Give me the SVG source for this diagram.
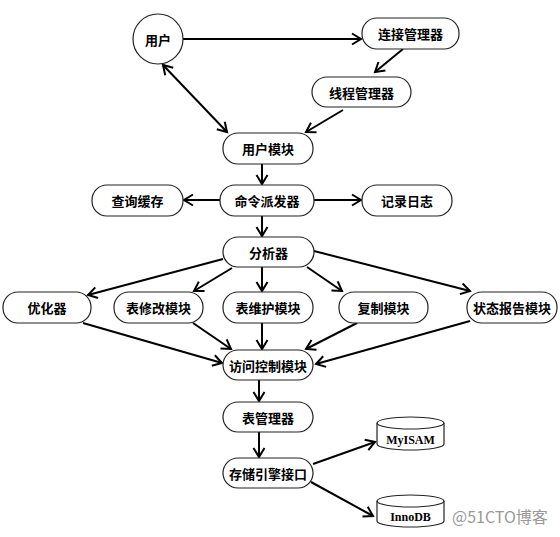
<svg xmlns="http://www.w3.org/2000/svg" width="560" height="537" viewBox="0 0 560 537">
<defs>
<marker id="ah" markerWidth="14" markerHeight="14" refX="0" refY="0" viewBox="-10 -7 12 14" markerUnits="userSpaceOnUse" orient="auto-start-reverse">
<path d="M-9,-5.5 L0,0 L-9,5.5" fill="none" stroke="#000" stroke-width="2"/>
</marker>
<style>
.n{fill:#fff;stroke:#222;stroke-width:1.2}
.t{font-family:"Noto Sans CJK SC","Noto Sans",sans-serif;font-size:13px;font-weight:bold;fill:#000;text-anchor:middle;dominant-baseline:central}
.s{font-family:"Liberation Serif",serif;font-size:12px;font-weight:bold;fill:#000;text-anchor:middle;dominant-baseline:central}
.c line{stroke:#000;stroke-width:2;marker-end:url(#ah)}
</style>
</defs>
<rect width="560" height="537" fill="#fff"/>
<g class="c" id="connectors">
<line x1="183" y1="39" x2="361" y2="39"/>
<line x1="403" y1="49" x2="375" y2="72"/>
<line x1="343" y1="110" x2="306" y2="132"/>
<line x1="163" y1="65" x2="227" y2="132" style="marker-start:url(#ah)"/>
<line x1="262" y1="164" x2="262" y2="184"/>
<line x1="220" y1="200" x2="184" y2="200"/>
<line x1="314" y1="200" x2="361" y2="200"/>
<line x1="262" y1="216" x2="262" y2="236"/>
<line x1="223" y1="259" x2="88" y2="295"/>
<line x1="232" y1="268" x2="194" y2="291"/>
<line x1="262" y1="267" x2="262" y2="291"/>
<line x1="307" y1="267" x2="342" y2="291"/>
<line x1="314" y1="251" x2="470" y2="291"/>
<line x1="83" y1="323" x2="222" y2="363"/>
<line x1="193" y1="323" x2="231" y2="349"/>
<line x1="262" y1="323" x2="262" y2="349"/>
<line x1="357" y1="323" x2="306" y2="349"/>
<line x1="470" y1="321" x2="316" y2="364"/>
<line x1="259" y1="380" x2="259" y2="401"/>
<line x1="259" y1="432" x2="259" y2="457"/>
<line x1="313" y1="464" x2="375" y2="442"/>
<line x1="311" y1="482" x2="373" y2="516"/>
</g>
<g id="user"><circle class="n" cx="158" cy="39" r="25"/><text class="t" x="158" y="39">用户</text></g>
<g id="conn"><rect class="n" x="362" y="18" width="97" height="31" rx="15"/><text class="t" x="410.5" y="33.5">连接管理器</text></g>
<g id="thread"><rect class="n" x="312" y="77" width="99" height="30" rx="15"/><text class="t" x="361.5" y="92">线程管理器</text></g>
<g id="usermod"><rect class="n" x="223" y="133" width="90" height="31" rx="15"/><text class="t" x="268" y="148.5">用户模块</text></g>
<g id="qcache"><rect class="n" x="92" y="185" width="91" height="31" rx="15"/><text class="t" x="137.5" y="200.5">查询缓存</text></g>
<g id="dispatch"><rect class="n" x="220" y="185" width="94" height="31" rx="15"/><text class="t" x="267" y="200.5">命令派发器</text></g>
<g id="log"><rect class="n" x="362" y="185" width="90" height="31" rx="15"/><text class="t" x="407" y="200.5">记录日志</text></g>
<g id="parser"><rect class="n" x="223" y="237" width="91" height="30" rx="15"/><text class="t" x="268.5" y="252">分析器</text></g>
<g id="optim"><rect class="n" x="3" y="292" width="88" height="31" rx="15"/><text class="t" x="47" y="307.5">优化器</text></g>
<g id="alter"><rect class="n" x="114" y="292" width="89" height="31" rx="15"/><text class="t" x="158.5" y="307.5">表修改模块</text></g>
<g id="maint"><rect class="n" x="223" y="292" width="90" height="31" rx="15"/><text class="t" x="268" y="307.5">表维护模块</text></g>
<g id="repl"><rect class="n" x="339" y="292" width="89" height="31" rx="15"/><text class="t" x="383.5" y="307.5">复制模块</text></g>
<g id="status"><rect class="n" x="467" y="292" width="90" height="31" rx="15"/><text class="t" x="512" y="307.5">状态报告模块</text></g>
<g id="access"><rect class="n" x="223" y="350" width="90" height="30" rx="15"/><text class="t" x="268" y="365">访问控制模块</text></g>
<g id="tblmgr"><rect class="n" x="223" y="402" width="90" height="30" rx="15"/><text class="t" x="268" y="417">表管理器</text></g>
<g id="engine"><rect class="n" x="223" y="458" width="90" height="30" rx="15"/><text class="t" x="268" y="473">存储引擎接口</text></g>
<g id="myisam"><path class="n" d="M377,423 L377,444 A33.5,6 0 0 0 444,444 L444,423"/><ellipse class="n" cx="410.5" cy="423" rx="33.5" ry="6"/><text class="s" x="410.5" y="440">MyISAM</text></g>
<g id="innodb"><path class="n" d="M377,501 L377,521 A33.5,6 0 0 0 444,521 L444,501"/><ellipse class="n" cx="410.5" cy="501" rx="33.5" ry="6"/><text class="s" x="410.5" y="517">InnoDB</text></g>
<text x="452" y="523" style="font-family:'Noto Sans CJK SC','Noto Sans',sans-serif;font-size:16px;fill:#999">@51CTO博客</text>
</svg>
